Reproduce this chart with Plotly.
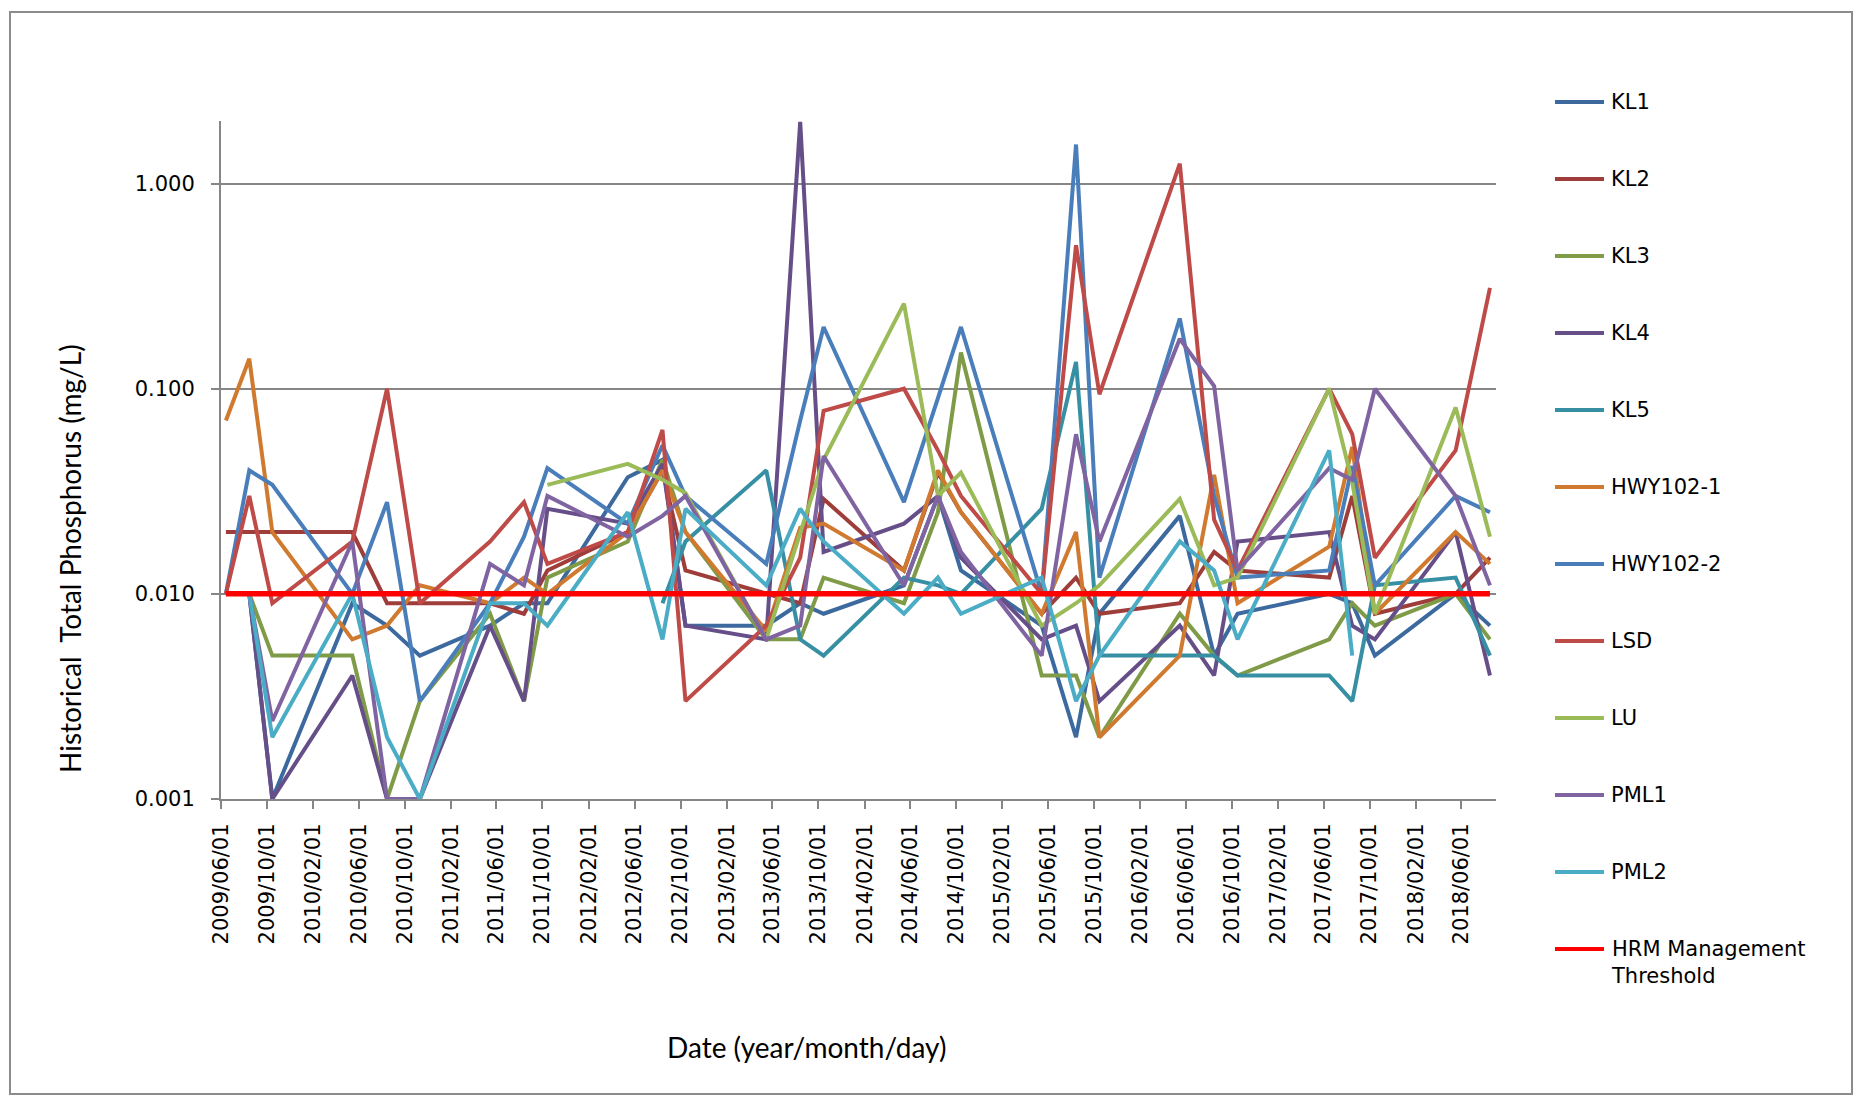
import plotly.graph_objects as go

# Sampling dates (year-month-day)
dates = [
    "2009-06-14", "2009-08-15", "2009-10-15",
    "2010-05-15", "2010-08-15", "2010-11-10",
    "2011-05-15", "2011-08-13", "2011-10-14",
    "2012-05-14", "2012-08-14", "2012-10-14",
    "2013-05-16", "2013-08-14", "2013-10-15",
    "2014-05-16", "2014-08-14", "2014-10-14",
    "2015-05-16", "2015-08-15", "2015-10-16",
    "2016-05-16", "2016-08-15", "2016-10-16",
    "2017-06-16", "2017-08-16", "2017-10-15",
    "2018-05-17", "2018-08-16",
]

# Total phosphorus (mg/L) per station; None = not sampled
kl1 = [0.01, 0.01, 0.001, 0.009, 0.007, 0.005, 0.007, 0.009, 0.009, 0.037, 0.045, 0.007, 0.007,
       0.009, 0.008, 0.011, 0.03, 0.013, 0.007, 0.002, 0.008, 0.024, 0.005, 0.008, 0.01, 0.009,
       0.005, 0.01, 0.007]
kl2 = [0.02, 0.02, 0.02, 0.02, 0.009, 0.009, 0.009, 0.008, 0.013, 0.02, 0.04, 0.013, 0.01,
       0.009, 0.029, 0.013, 0.039, 0.025, 0.008, 0.012, 0.008, 0.009, 0.016, 0.013, 0.012, 0.03,
       0.008, 0.01, 0.015]
kl3 = [None, 0.01, 0.005, 0.005, 0.001, 0.003, 0.008, 0.003, 0.012, 0.018, 0.045, 0.02, 0.006,
       0.006, 0.012, 0.009, 0.025, 0.15, 0.004, 0.004, 0.002, 0.008, 0.005, 0.004, 0.006, 0.009,
       0.007, 0.01, 0.006]
kl4 = [None, 0.01, 0.001, 0.004, 0.001, 0.001, 0.007, 0.003, 0.026, 0.022, 0.043, 0.007, 0.006,
       2.0, 0.016, 0.022, 0.03, 0.015, 0.006, 0.007, 0.003, 0.007, 0.004, 0.018, 0.02, 0.007,
       0.006, 0.02, 0.004]
kl5 = [None, None, None, None, None, None, None, None, None, None, 0.009, 0.018, 0.04,
       0.006, 0.005, 0.012, 0.011, 0.01, 0.026, 0.135, 0.005, 0.005, 0.005, 0.004, 0.004, 0.003,
       0.011, 0.012, 0.005]
hwy102_1 = [0.07, 0.14, 0.02, 0.006, 0.007, 0.011, 0.009, 0.012, 0.01, 0.02, 0.04, 0.02, 0.0066,
            0.021, 0.022, 0.013, 0.04, 0.025, 0.008, 0.02, 0.002, 0.005, 0.038, 0.009, 0.017,
            0.052, 0.008, 0.02, 0.014]
hwy102_2 = [0.01, 0.04, 0.034, 0.01, 0.028, 0.003, 0.009, 0.019, 0.041, 0.022, 0.053, 0.03, 0.014,
            0.07, 0.2, 0.028, 0.09, 0.2, 0.01, 1.55, 0.012, 0.22, 0.03, 0.012, 0.013, 0.042,
            0.011, 0.03, 0.025]
lsd = [0.01, 0.03, 0.009, 0.018, 0.1, 0.009, 0.018, 0.028, 0.014, 0.02, 0.063, 0.003, 0.007,
       0.015, 0.078, 0.1, 0.05, 0.03, 0.01, 0.5, 0.094, 1.25, 0.023, 0.013, 0.1, 0.06,
       0.015, 0.05, 0.31]
lu = [None, None, None, None, None, None, None, None, 0.034, 0.043, 0.036, 0.031, 0.006,
      0.02, 0.045, 0.26, 0.03, 0.039, 0.007, 0.009, 0.011, 0.029, 0.011, 0.012, 0.1, 0.035,
      0.008, 0.081, 0.019]
pml1 = [None, 0.01, 0.0024, 0.018, 0.001, 0.001, 0.014, 0.011, 0.03, 0.019, 0.024, 0.03, 0.006,
        0.007, 0.047, 0.011, 0.03, 0.016, 0.005, 0.06, 0.018, 0.175, 0.103, 0.013, 0.041, 0.036,
        0.1, 0.03, 0.011]
pml2 = [None, 0.01, 0.002, 0.01, 0.002, 0.001, 0.009, 0.009, 0.007, 0.025, 0.006, 0.026, 0.011,
        0.026, 0.018, 0.008, 0.012, 0.008, 0.012, 0.003, 0.005, 0.018, 0.013, 0.006, 0.05, 0.005,
        None, None, None]
threshold = [0.01] * len(dates)

station_names = ["KL1", "KL2", "KL3", "KL4", "KL5", "HWY102-1", "HWY102-2",
                 "LSD", "LU", "PML1", "PML2"]
station_values = [kl1, kl2, kl3, kl4, kl5, hwy102_1, hwy102_2, lsd, lu, pml1, pml2]
station_colors = ["#3D6A9E", "#9E3D3A", "#7F9B48", "#664E88", "#378FA4", "#D07A30",
                  "#4A7EBB", "#BE4B48", "#9BBB59", "#8064A2", "#4BACC6"]
threshold_name = "HRM Management<br>Threshold"
threshold_color = "#FF0000"

tick_labels = [
    "2009/06/01", "2009/10/01", "2010/02/01", "2010/06/01", "2010/10/01", "2011/02/01",
    "2011/06/01", "2011/10/01", "2012/02/01", "2012/06/01", "2012/10/01", "2013/02/01",
    "2013/06/01", "2013/10/01", "2014/02/01", "2014/06/01", "2014/10/01", "2015/02/01",
    "2015/06/01", "2015/10/01", "2016/02/01", "2016/06/01", "2016/10/01", "2017/02/01",
    "2017/06/01", "2017/10/01", "2018/02/01", "2018/06/01",
]
tick_dates = [t.replace("/", "-") for t in tick_labels]

y_tick_vals = [0.001, 0.01, 0.1, 1.0]
y_tick_text = ["0.001", "0.010", "0.100", "1.000"]

GRID = "#868686"
TICK_FONT = dict(family="DejaVu Sans", size=21, color="#000000")
LEGEND_FONT = dict(family="DejaVu Sans", size=21, color="#000000")

fig = go.Figure()
for name, vals, col in zip(station_names, station_values, station_colors):
    fig.add_trace(go.Scatter(
        x=dates, y=vals, name=name, mode="lines",
        line=dict(color=col, width=4), connectgaps=False,
    ))
fig.add_trace(go.Scatter(
    x=dates, y=threshold, name=threshold_name, mode="lines",
    line=dict(color=threshold_color, width=5.5),
))

# plot area in pixels: x 221..1496, y 121..799
L, R, T, B = 221, 1496, 121, 799
W, H = 1860, 1097


def px_x(p):
    return (p - L) / (R - L)


def px_y(p):
    return (B - p) / (B - T)


shapes = [
    dict(type="rect", xref="paper", yref="paper",
         x0=px_x(10), x1=px_x(1852), y0=px_y(1094), y1=px_y(12),
         line=dict(color="#8C8C8C", width=2), fillcolor="rgba(0,0,0,0)", layer="below"),
]
annotations = [
    dict(text="Date (year/month/day)", xref="paper", yref="paper",
         x=px_x(806), y=px_y(1047), showarrow=False,
         font=dict(family="Lato", size=28, color="#000000"),
         xanchor="center", yanchor="middle"),
    dict(text="Historical  Total Phosphorus (mg/L)", xref="paper", yref="paper",
         x=px_x(70), y=px_y(559), showarrow=False, textangle=-90,
         font=dict(family="Lato", size=28, color="#000000"),
         xanchor="center", yanchor="middle"),
]

# legend column on the right: one swatch line + label per series
legend_names = station_names + [threshold_name]
legend_colors = station_colors + [threshold_color]
for i, (name, col) in enumerate(zip(legend_names, legend_colors)):
    cy = 102 + 77 * i
    shapes.append(dict(type="line", xref="paper", yref="paper",
                       x0=px_x(1555), x1=px_x(1604), y0=px_y(cy), y1=px_y(cy),
                       line=dict(color=col, width=4)))
    annotations.append(dict(text=name, xref="paper", yref="paper",
                            x=px_x(1609), y=px_y(cy - 14), showarrow=False,
                            xanchor="left", yanchor="top", align="left",
                            font=LEGEND_FONT))

fig.update_layout(
    width=W, height=H,
    margin=dict(l=L, r=W - R, t=T, b=H - B),
    paper_bgcolor="white", plot_bgcolor="white",
    showlegend=False,
    xaxis=dict(
        type="date", range=["2009-06-01", "2018-09-01"],
        tickvals=tick_dates, ticktext=tick_labels, tickangle=-90,
        ticks="outside", ticklen=8, tickwidth=2, tickcolor=GRID,
        showline=True, linecolor=GRID, linewidth=2, showgrid=False,
        tickfont=TICK_FONT, ticklabelstandoff=6, zeroline=False,
    ),
    yaxis=dict(
        type="log", range=[-3, 0.305],
        tickvals=y_tick_vals, ticktext=y_tick_text,
        ticks="outside", ticklen=8, tickwidth=2, tickcolor=GRID,
        showline=True, linecolor=GRID, linewidth=2,
        showgrid=True, gridcolor=GRID, gridwidth=2,
        tickfont=TICK_FONT, ticklabelstandoff=12, zeroline=False,
    ),
    annotations=annotations,
    shapes=shapes,
)

fig.write_html("out.html")
